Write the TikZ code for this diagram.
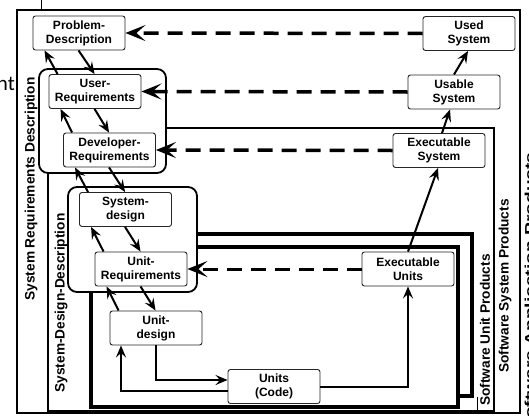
\documentclass[tikz,border=0pt]{standalone}
\usepackage{fontspec}
\setmainfont{Liberation Sans}
\newfontfamily\slidefont{Carlito}
\usetikzlibrary{arrows.meta}

\begin{document}
\begin{tikzpicture}[x=1pt,y=-1pt,
  stage/.style={draw=black!85, line width=0.9pt, rounded corners=2.5pt, fill=white,
    minimum width=92pt, minimum height=34pt, inner sep=0pt, align=center,
    font=\fontsize{12}{14}\selectfont\bfseries},
  flow/.style={line width=2pt, -{Stealth[length=12pt,width=10pt,inset=4.5pt]}},
  backflow/.style={line width=3.5pt, dash pattern=on 15pt off 9pt,
    -{Stealth[length=20pt,width=16pt,inset=9pt]}},
  grp/.style={draw, line width=1.8pt, rounded corners=9pt, fill=white},
  framebox/.style={draw, line width=1.6pt},
  stackbox/.style={draw, line width=3.5pt, fill=white},
  side/.style={rotate=90, inner sep=0pt, font=\fontsize{13.7}{16}\selectfont\bfseries}
]
\useasboundingbox (0,0) rectangle (529,415);
\clip (0,0) rectangle (529,415);

% nested product frames
\draw[framebox] (17,10) rectangle (520,413);
\draw[line width=1pt] (41.5,0) -- (41.5,10);
\draw[framebox] (48,128) rectangle (494,411);
\draw[line width=1pt] (458,411) -- (477,411) -- (477,397);

% stacked unit-product sheets
\draw[stackbox] (110,234) rectangle (472,396);
\draw[stackbox] (91,247) rectangle (458,407);

% requirement / design groups
\draw[grp] (39,69) rectangle (166,173);
\draw[grp] (68,187) rectangle (197,292);

% side labels
\node[side] (lsrd) at (31,189) {System Requirements Description};
\node[side] (lsdd) at (61,303) {System-Design-Description};
\node[side] (lsup) at (485,330) {Software Unit Products};
\node[side] (lssp) at (505,286) {Software System Products};
\node[side] (lsap) at (531,292) {\scalebox{1.4}[1]{Software Application Products}};
\node[anchor=base east, inner sep=0pt, font=\slidefont\fontsize{21}{21}\selectfont] (frag) at (15,90) {nt};

% stages
\node[stage] (prob)  at (79,33)    {Problem-\\Description};
\node[stage] (user)  at (95,91.5)  {User-\\Requirements};
\node[stage] (dev)   at (109.5,150) {Developer-\\Requirements};
\node[stage] (sysd)  at (125.5,209.5) {System-\\design};
\node[stage] (ureq)  at (141,269)  {Unit-\\Requirements};
\node[stage] (udes)  at (156,328)  {Unit-\\design};
\node[stage] (units) at (274,386.5) {Units\\(Code)};
\node[stage] (exu)   at (408,269)  {Executable\\Units};
\node[stage] (exs)   at (439,150.5) {Executable\\System};
\node[stage] (usab)  at (454,92)   {Usable\\System};
\node[stage] (used)  at (469,33.5) {Used\\System};

% refinement (down) and feedback (up) along the left branch
\foreach \hi/\lo in {prob/user, user/dev, dev/sysd, sysd/ureq, ureq/udes} {
  \draw[flow] ([xshift=46pt]\hi.south west) -- ([xshift=46pt]\lo.north west);
  \draw[flow] ([xshift=9pt]\lo.north west) -- ([xshift=12pt]\hi.south west);
}

% implementation loop
\draw[flow] (udes.south) |- ([yshift=6.5pt]units.west);
\draw[flow] ([yshift=-4.5pt]units.west) -| ([xshift=-35pt]udes.south);
\draw[flow] (units.east) -| (exu.south);

% integration (right branch)
\draw[flow] (exu.north) -- ([xshift=-1pt]exs.south);
\draw[flow] ([xshift=3pt]exs.north) -- ([xshift=-4pt]usab.south);
\draw[flow] (usab.north) -- ([xshift=-1pt]used.south);

% verification links
\draw[backflow] (used.west) -- (prob.east);
\draw[backflow] (usab.west) -- (user.east);
\draw[backflow] (exs.west) -- (dev.east);
\draw[backflow, line width=3pt] (exu.west) -- (ureq.east);
\end{tikzpicture}
\end{document}
